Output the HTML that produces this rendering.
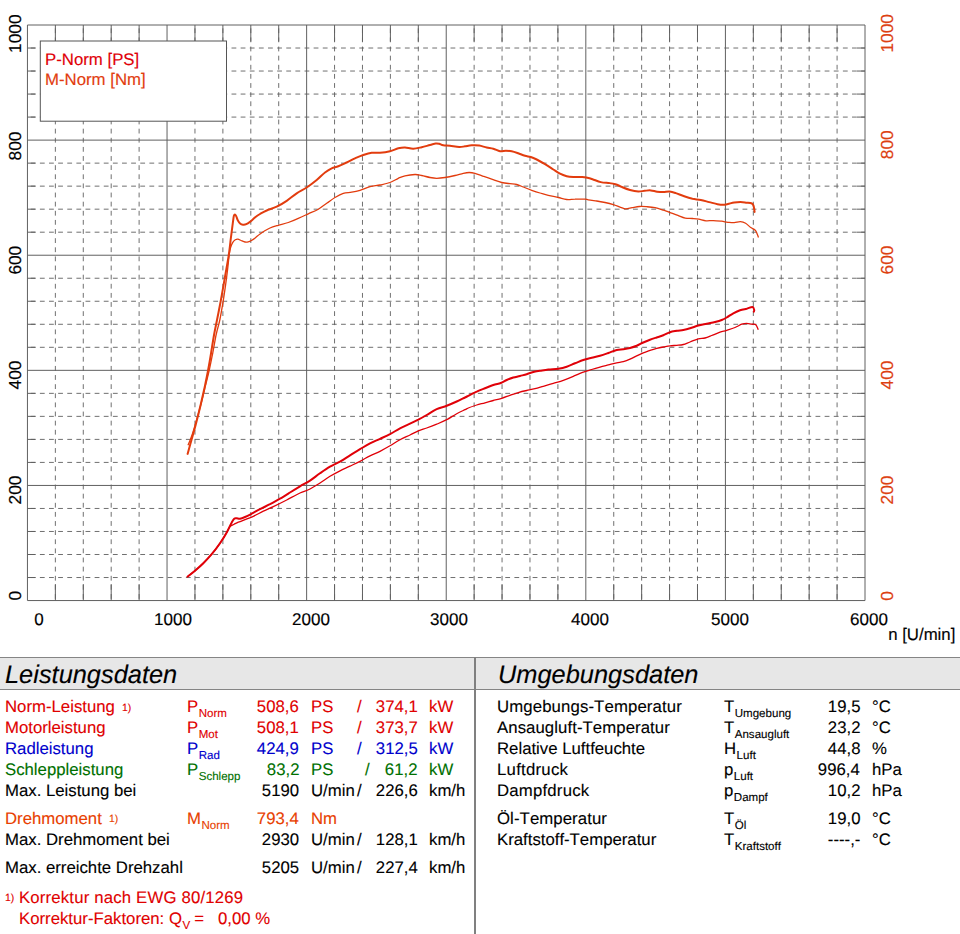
<!DOCTYPE html>
<html><head><meta charset="utf-8"><title>Leistungsdiagramm</title>
<style>
html,body{margin:0;padding:0;background:#fff;}
body{width:960px;height:934px;position:relative;overflow:hidden;font-family:"Liberation Sans",sans-serif;}
svg{position:absolute;left:0;top:0;}
svg text{font-family:"Liberation Sans",sans-serif;text-rendering:geometricPrecision;stroke-width:0.15px;paint-order:stroke;}
.ay,.ax{stroke:#000;}
.s{stroke:#606060;stroke-width:1;}
.d{stroke:#606060;stroke-width:0.9;stroke-dasharray:4.8 4.325;stroke-dashoffset:5.8;}
.ay{font-size:17.3px;}
.ax{font-size:17px;}
.lg{font-size:16.8px;}
.hdr{position:absolute;left:0;top:656.5px;width:960px;height:33px;background:#e7e7e7;border-top:1.6px solid #858585;border-bottom:1.6px solid #858585;box-sizing:border-box;}
.hd{text-rendering:geometricPrecision;position:absolute;top:659.7px;font-size:25.4px;font-style:italic;line-height:30px;color:#000;white-space:nowrap;-webkit-text-stroke:0.12px;}
.vd{position:absolute;left:474.1px;top:656.5px;width:1.8px;height:278px;background:#808080;}
.t{position:absolute;font-size:16.7px;line-height:20px;white-space:nowrap;text-rendering:geometricPrecision;transform:scaleX(1.004);transform-origin:0 0;font-kerning:none;-webkit-text-stroke:0.12px;}
.r{transform-origin:100% 0;}
.sub{font-size:11.5px;position:relative;top:5px;left:0.5px;line-height:0;}
.fn{font-size:10.4px;position:relative;top:-1.7px;line-height:0;}
</style></head><body>
<svg width="960" height="934" viewBox="0 0 960 934">
<line x1="27.45" y1="25.0" x2="27.45" y2="600.55" class="s"/>
<line x1="55.37" y1="25.0" x2="55.37" y2="600.55" class="d"/>
<line x1="55.37" y1="25.0" x2="55.37" y2="41.5" class="s"/>
<line x1="55.37" y1="584.05" x2="55.37" y2="600.55" class="s"/>
<line x1="83.29" y1="25.0" x2="83.29" y2="600.55" class="d"/>
<line x1="83.29" y1="25.0" x2="83.29" y2="41.5" class="s"/>
<line x1="83.29" y1="584.05" x2="83.29" y2="600.55" class="s"/>
<line x1="111.20" y1="25.0" x2="111.20" y2="600.55" class="d"/>
<line x1="111.20" y1="25.0" x2="111.20" y2="41.5" class="s"/>
<line x1="111.20" y1="584.05" x2="111.20" y2="600.55" class="s"/>
<line x1="139.12" y1="25.0" x2="139.12" y2="600.55" class="d"/>
<line x1="139.12" y1="25.0" x2="139.12" y2="41.5" class="s"/>
<line x1="139.12" y1="584.05" x2="139.12" y2="600.55" class="s"/>
<line x1="167.04" y1="25.0" x2="167.04" y2="600.55" class="s"/>
<line x1="194.96" y1="25.0" x2="194.96" y2="600.55" class="d"/>
<line x1="194.96" y1="25.0" x2="194.96" y2="41.5" class="s"/>
<line x1="194.96" y1="584.05" x2="194.96" y2="600.55" class="s"/>
<line x1="222.88" y1="25.0" x2="222.88" y2="600.55" class="d"/>
<line x1="222.88" y1="25.0" x2="222.88" y2="41.5" class="s"/>
<line x1="222.88" y1="584.05" x2="222.88" y2="600.55" class="s"/>
<line x1="250.80" y1="25.0" x2="250.80" y2="600.55" class="d"/>
<line x1="250.80" y1="25.0" x2="250.80" y2="41.5" class="s"/>
<line x1="250.80" y1="584.05" x2="250.80" y2="600.55" class="s"/>
<line x1="278.71" y1="25.0" x2="278.71" y2="600.55" class="d"/>
<line x1="278.71" y1="25.0" x2="278.71" y2="41.5" class="s"/>
<line x1="278.71" y1="584.05" x2="278.71" y2="600.55" class="s"/>
<line x1="306.63" y1="25.0" x2="306.63" y2="600.55" class="s"/>
<line x1="334.55" y1="25.0" x2="334.55" y2="600.55" class="d"/>
<line x1="334.55" y1="25.0" x2="334.55" y2="41.5" class="s"/>
<line x1="334.55" y1="584.05" x2="334.55" y2="600.55" class="s"/>
<line x1="362.47" y1="25.0" x2="362.47" y2="600.55" class="d"/>
<line x1="362.47" y1="25.0" x2="362.47" y2="41.5" class="s"/>
<line x1="362.47" y1="584.05" x2="362.47" y2="600.55" class="s"/>
<line x1="390.39" y1="25.0" x2="390.39" y2="600.55" class="d"/>
<line x1="390.39" y1="25.0" x2="390.39" y2="41.5" class="s"/>
<line x1="390.39" y1="584.05" x2="390.39" y2="600.55" class="s"/>
<line x1="418.31" y1="25.0" x2="418.31" y2="600.55" class="d"/>
<line x1="418.31" y1="25.0" x2="418.31" y2="41.5" class="s"/>
<line x1="418.31" y1="584.05" x2="418.31" y2="600.55" class="s"/>
<line x1="446.22" y1="25.0" x2="446.22" y2="600.55" class="s"/>
<line x1="474.14" y1="25.0" x2="474.14" y2="600.55" class="d"/>
<line x1="474.14" y1="25.0" x2="474.14" y2="41.5" class="s"/>
<line x1="474.14" y1="584.05" x2="474.14" y2="600.55" class="s"/>
<line x1="502.06" y1="25.0" x2="502.06" y2="600.55" class="d"/>
<line x1="502.06" y1="25.0" x2="502.06" y2="41.5" class="s"/>
<line x1="502.06" y1="584.05" x2="502.06" y2="600.55" class="s"/>
<line x1="529.98" y1="25.0" x2="529.98" y2="600.55" class="d"/>
<line x1="529.98" y1="25.0" x2="529.98" y2="41.5" class="s"/>
<line x1="529.98" y1="584.05" x2="529.98" y2="600.55" class="s"/>
<line x1="557.90" y1="25.0" x2="557.90" y2="600.55" class="d"/>
<line x1="557.90" y1="25.0" x2="557.90" y2="41.5" class="s"/>
<line x1="557.90" y1="584.05" x2="557.90" y2="600.55" class="s"/>
<line x1="585.82" y1="25.0" x2="585.82" y2="600.55" class="s"/>
<line x1="613.74" y1="25.0" x2="613.74" y2="600.55" class="d"/>
<line x1="613.74" y1="25.0" x2="613.74" y2="41.5" class="s"/>
<line x1="613.74" y1="584.05" x2="613.74" y2="600.55" class="s"/>
<line x1="641.65" y1="25.0" x2="641.65" y2="600.55" class="d"/>
<line x1="641.65" y1="25.0" x2="641.65" y2="41.5" class="s"/>
<line x1="641.65" y1="584.05" x2="641.65" y2="600.55" class="s"/>
<line x1="669.57" y1="25.0" x2="669.57" y2="600.55" class="d"/>
<line x1="669.57" y1="25.0" x2="669.57" y2="41.5" class="s"/>
<line x1="669.57" y1="584.05" x2="669.57" y2="600.55" class="s"/>
<line x1="697.49" y1="25.0" x2="697.49" y2="600.55" class="d"/>
<line x1="697.49" y1="25.0" x2="697.49" y2="41.5" class="s"/>
<line x1="697.49" y1="584.05" x2="697.49" y2="600.55" class="s"/>
<line x1="725.41" y1="25.0" x2="725.41" y2="600.55" class="s"/>
<line x1="753.33" y1="25.0" x2="753.33" y2="600.55" class="d"/>
<line x1="753.33" y1="25.0" x2="753.33" y2="41.5" class="s"/>
<line x1="753.33" y1="584.05" x2="753.33" y2="600.55" class="s"/>
<line x1="781.25" y1="25.0" x2="781.25" y2="600.55" class="d"/>
<line x1="781.25" y1="25.0" x2="781.25" y2="41.5" class="s"/>
<line x1="781.25" y1="584.05" x2="781.25" y2="600.55" class="s"/>
<line x1="809.16" y1="25.0" x2="809.16" y2="600.55" class="d"/>
<line x1="809.16" y1="25.0" x2="809.16" y2="41.5" class="s"/>
<line x1="809.16" y1="584.05" x2="809.16" y2="600.55" class="s"/>
<line x1="837.08" y1="25.0" x2="837.08" y2="600.55" class="d"/>
<line x1="837.08" y1="25.0" x2="837.08" y2="41.5" class="s"/>
<line x1="837.08" y1="584.05" x2="837.08" y2="600.55" class="s"/>
<line x1="865.00" y1="25.0" x2="865.00" y2="600.55" class="s"/>
<line x1="27.45" y1="600.55" x2="865.0" y2="600.55" class="s"/>
<line x1="27.45" y1="577.53" x2="865.0" y2="577.53" class="d"/>
<line x1="27.45" y1="577.53" x2="35.45" y2="577.53" class="s"/>
<line x1="857.0" y1="577.53" x2="865.0" y2="577.53" class="s"/>
<line x1="27.45" y1="554.51" x2="865.0" y2="554.51" class="d"/>
<line x1="27.45" y1="554.51" x2="35.45" y2="554.51" class="s"/>
<line x1="857.0" y1="554.51" x2="865.0" y2="554.51" class="s"/>
<line x1="27.45" y1="531.48" x2="865.0" y2="531.48" class="d"/>
<line x1="27.45" y1="531.48" x2="35.45" y2="531.48" class="s"/>
<line x1="857.0" y1="531.48" x2="865.0" y2="531.48" class="s"/>
<line x1="27.45" y1="508.46" x2="865.0" y2="508.46" class="d"/>
<line x1="27.45" y1="508.46" x2="35.45" y2="508.46" class="s"/>
<line x1="857.0" y1="508.46" x2="865.0" y2="508.46" class="s"/>
<line x1="27.45" y1="485.44" x2="865.0" y2="485.44" class="s"/>
<line x1="27.45" y1="462.42" x2="865.0" y2="462.42" class="d"/>
<line x1="27.45" y1="462.42" x2="35.45" y2="462.42" class="s"/>
<line x1="857.0" y1="462.42" x2="865.0" y2="462.42" class="s"/>
<line x1="27.45" y1="439.40" x2="865.0" y2="439.40" class="d"/>
<line x1="27.45" y1="439.40" x2="35.45" y2="439.40" class="s"/>
<line x1="857.0" y1="439.40" x2="865.0" y2="439.40" class="s"/>
<line x1="27.45" y1="416.37" x2="865.0" y2="416.37" class="d"/>
<line x1="27.45" y1="416.37" x2="35.45" y2="416.37" class="s"/>
<line x1="857.0" y1="416.37" x2="865.0" y2="416.37" class="s"/>
<line x1="27.45" y1="393.35" x2="865.0" y2="393.35" class="d"/>
<line x1="27.45" y1="393.35" x2="35.45" y2="393.35" class="s"/>
<line x1="857.0" y1="393.35" x2="865.0" y2="393.35" class="s"/>
<line x1="27.45" y1="370.33" x2="865.0" y2="370.33" class="s"/>
<line x1="27.45" y1="347.31" x2="865.0" y2="347.31" class="d"/>
<line x1="27.45" y1="347.31" x2="35.45" y2="347.31" class="s"/>
<line x1="857.0" y1="347.31" x2="865.0" y2="347.31" class="s"/>
<line x1="27.45" y1="324.29" x2="865.0" y2="324.29" class="d"/>
<line x1="27.45" y1="324.29" x2="35.45" y2="324.29" class="s"/>
<line x1="857.0" y1="324.29" x2="865.0" y2="324.29" class="s"/>
<line x1="27.45" y1="301.26" x2="865.0" y2="301.26" class="d"/>
<line x1="27.45" y1="301.26" x2="35.45" y2="301.26" class="s"/>
<line x1="857.0" y1="301.26" x2="865.0" y2="301.26" class="s"/>
<line x1="27.45" y1="278.24" x2="865.0" y2="278.24" class="d"/>
<line x1="27.45" y1="278.24" x2="35.45" y2="278.24" class="s"/>
<line x1="857.0" y1="278.24" x2="865.0" y2="278.24" class="s"/>
<line x1="27.45" y1="255.22" x2="865.0" y2="255.22" class="s"/>
<line x1="27.45" y1="232.20" x2="865.0" y2="232.20" class="d"/>
<line x1="27.45" y1="232.20" x2="35.45" y2="232.20" class="s"/>
<line x1="857.0" y1="232.20" x2="865.0" y2="232.20" class="s"/>
<line x1="27.45" y1="209.18" x2="865.0" y2="209.18" class="d"/>
<line x1="27.45" y1="209.18" x2="35.45" y2="209.18" class="s"/>
<line x1="857.0" y1="209.18" x2="865.0" y2="209.18" class="s"/>
<line x1="27.45" y1="186.15" x2="865.0" y2="186.15" class="d"/>
<line x1="27.45" y1="186.15" x2="35.45" y2="186.15" class="s"/>
<line x1="857.0" y1="186.15" x2="865.0" y2="186.15" class="s"/>
<line x1="27.45" y1="163.13" x2="865.0" y2="163.13" class="d"/>
<line x1="27.45" y1="163.13" x2="35.45" y2="163.13" class="s"/>
<line x1="857.0" y1="163.13" x2="865.0" y2="163.13" class="s"/>
<line x1="27.45" y1="140.11" x2="865.0" y2="140.11" class="s"/>
<line x1="27.45" y1="117.09" x2="865.0" y2="117.09" class="d"/>
<line x1="27.45" y1="117.09" x2="35.45" y2="117.09" class="s"/>
<line x1="857.0" y1="117.09" x2="865.0" y2="117.09" class="s"/>
<line x1="27.45" y1="94.07" x2="865.0" y2="94.07" class="d"/>
<line x1="27.45" y1="94.07" x2="35.45" y2="94.07" class="s"/>
<line x1="857.0" y1="94.07" x2="865.0" y2="94.07" class="s"/>
<line x1="27.45" y1="71.04" x2="865.0" y2="71.04" class="d"/>
<line x1="27.45" y1="71.04" x2="35.45" y2="71.04" class="s"/>
<line x1="857.0" y1="71.04" x2="865.0" y2="71.04" class="s"/>
<line x1="27.45" y1="48.02" x2="865.0" y2="48.02" class="d"/>
<line x1="27.45" y1="48.02" x2="35.45" y2="48.02" class="s"/>
<line x1="857.0" y1="48.02" x2="865.0" y2="48.02" class="s"/>
<line x1="27.45" y1="25.00" x2="865.0" y2="25.00" class="s"/>
<rect x="40.3" y="41" width="186.2" height="80.2" fill="#fff" stroke="#555" stroke-width="1"/>
<path d="M188.0 445.3C188.6 443.9 190.1 440.5 191.4 436.8C192.7 433.1 194.2 428.2 195.7 423.1C197.2 418.0 198.9 411.9 200.5 405.9C202.1 399.9 203.7 393.0 205.1 387.1C206.5 381.2 207.8 376.5 209.1 370.8C210.4 365.1 211.6 358.9 212.8 352.8C214.0 346.7 215.1 339.5 216.3 334.0C217.5 328.5 218.7 325.2 219.8 320.0C220.9 314.8 221.9 308.7 222.9 302.8C223.9 296.9 224.8 290.4 225.6 284.8C226.4 279.2 227.0 274.5 227.6 269.4C228.2 264.3 228.8 257.6 229.3 254.0C229.8 250.3 230.0 249.4 230.6 247.5C231.2 245.6 232.0 243.7 232.8 242.4C233.6 241.1 234.5 240.3 235.3 239.8C236.2 239.3 236.9 239.1 237.9 239.2C238.9 239.3 239.9 240.0 241.1 240.5C242.3 241.0 243.8 241.8 245.0 242.0C246.2 242.2 247.1 242.1 248.2 241.8C249.3 241.6 250.2 241.2 251.4 240.5C252.6 239.8 253.8 239.0 255.2 237.9C256.6 236.8 258.6 235.0 260.0 234.0C261.4 233.0 261.6 232.7 263.3 231.7C265.0 230.7 267.5 229.1 270.0 228.0C272.5 226.9 275.2 226.2 278.3 225.3C281.4 224.4 285.0 223.7 288.3 222.5C291.6 221.3 295.0 219.8 298.3 218.3C301.6 216.9 305.0 215.3 308.3 213.8C311.6 212.3 315.2 210.9 318.3 209.2C321.4 207.4 323.9 205.2 326.7 203.3C329.5 201.4 332.2 199.2 335.0 197.5C337.8 195.8 340.5 194.2 343.3 193.3C346.1 192.4 348.9 192.7 351.7 192.2C354.5 191.7 356.9 191.2 360.0 190.3C363.1 189.4 366.7 187.6 370.0 186.7C373.3 185.8 376.7 185.7 380.0 185.0C383.3 184.3 386.9 183.6 390.0 182.5C393.1 181.4 395.8 179.4 398.3 178.3C400.8 177.2 402.2 176.4 405.0 175.8C407.8 175.2 412.2 174.6 415.0 174.5C417.8 174.4 419.2 175.0 421.7 175.5C424.2 176.0 427.5 177.0 430.0 177.5C432.5 178.0 434.2 178.3 436.7 178.3C439.2 178.3 441.9 178.0 445.0 177.5C448.1 177.0 451.9 176.2 455.0 175.5C458.1 174.8 460.9 173.8 463.3 173.3C465.7 172.8 467.2 172.5 469.2 172.5C471.1 172.5 472.6 172.7 475.0 173.3C477.4 173.9 480.5 175.3 483.3 176.3C486.1 177.3 488.6 178.2 491.7 179.2C494.8 180.2 498.6 181.8 501.7 182.5C504.8 183.2 507.5 183.4 510.0 183.7C512.5 184.0 514.5 183.9 516.7 184.5C518.9 185.1 520.8 186.0 523.3 187.0C525.8 188.0 528.9 189.3 531.7 190.3C534.5 191.3 537.2 192.2 540.0 193.0C542.8 193.8 545.2 194.6 548.3 195.3C551.3 196.1 555.2 196.8 558.3 197.5C561.4 198.2 563.9 199.2 566.7 199.5C569.5 199.8 572.0 199.2 575.0 199.2C578.0 199.1 582.8 199.1 585.0 199.2C587.2 199.3 586.3 199.5 588.3 199.8C590.2 200.1 593.9 200.6 596.7 201.0C599.5 201.4 602.2 201.9 605.0 202.5C607.8 203.1 610.7 203.8 613.3 204.6C615.9 205.4 618.5 206.6 620.6 207.3C622.7 208.0 623.9 208.7 625.8 208.8C627.7 208.8 629.8 208.1 632.1 207.7C634.4 207.3 637.0 206.7 639.4 206.5C641.8 206.3 644.1 206.5 646.7 206.7C649.3 206.9 652.2 207.1 655.0 207.7C657.8 208.3 660.9 209.4 663.3 210.2C665.7 211.0 667.2 211.4 669.6 212.3C672.0 213.2 675.3 214.4 677.9 215.4C680.5 216.4 682.8 217.6 685.2 218.1C687.6 218.6 690.2 218.3 692.5 218.5C694.8 218.7 696.5 218.8 698.8 219.2C701.0 219.6 703.6 220.6 706.0 220.8C708.4 221.0 710.7 220.5 713.3 220.6C715.9 220.7 719.3 221.0 721.7 221.2C724.1 221.5 725.8 222.1 727.9 222.3C730.0 222.5 732.1 222.8 734.2 222.7C736.3 222.6 738.5 221.6 740.4 221.7C742.3 221.8 743.9 222.3 745.6 223.3C747.3 224.3 749.1 226.3 750.8 227.5C752.5 228.7 754.3 228.9 755.6 230.6C756.9 232.3 758.0 236.3 758.5 237.5" fill="none" stroke="#e23c0e" stroke-width="1.3" stroke-linejoin="round"/>
<path d="M187.6 453.9C188.2 451.6 190.1 445.0 191.4 440.2C192.8 435.4 194.3 430.2 195.7 424.8C197.1 419.4 198.6 413.6 200.0 407.6C201.4 401.6 203.0 394.9 204.3 388.8C205.6 382.7 206.9 376.8 208.0 370.8C209.1 364.8 210.1 358.9 211.1 352.8C212.1 346.7 213.2 339.5 214.2 334.0C215.2 328.5 216.0 325.2 217.0 320.0C218.0 314.8 219.3 308.7 220.4 302.8C221.5 296.9 222.6 290.4 223.6 284.8C224.6 279.2 225.4 274.5 226.3 269.4C227.2 264.3 228.2 259.1 228.9 254.0C229.7 248.8 230.2 243.7 230.8 238.5C231.5 233.3 232.3 226.8 232.8 223.1C233.3 219.4 233.5 217.5 233.8 216.1C234.2 214.7 234.5 214.4 234.9 214.4C235.3 214.4 235.7 215.1 236.2 216.1C236.7 217.1 237.2 219.4 237.9 220.6C238.6 221.8 239.2 222.8 240.1 223.5C240.9 224.2 242.0 224.6 243.0 224.7C244.0 224.8 245.0 224.8 246.3 224.2C247.6 223.6 249.3 222.3 250.8 221.2C252.3 220.0 253.7 218.5 255.2 217.3C256.7 216.1 258.1 215.1 260.0 214.0C261.9 212.9 263.9 211.7 266.7 210.5C269.5 209.3 273.4 208.3 276.7 206.7C280.0 205.1 283.4 203.0 286.7 200.8C290.0 198.6 293.4 195.5 296.7 193.3C300.0 191.1 303.4 189.7 306.7 187.5C310.0 185.3 313.6 182.5 316.7 180.0C319.8 177.5 322.5 174.4 325.0 172.5C327.5 170.6 329.5 169.3 331.7 168.3C333.9 167.3 335.8 167.3 338.3 166.3C340.8 165.3 343.9 163.8 346.7 162.5C349.5 161.2 352.2 159.6 355.0 158.3C357.8 157.1 360.5 155.9 363.3 155.0C366.1 154.1 368.9 153.2 371.7 152.8C374.5 152.4 376.9 153.1 380.0 152.8C383.1 152.6 386.9 152.1 390.0 151.3C393.1 150.6 395.8 148.9 398.3 148.3C400.8 147.7 402.5 147.4 405.0 147.5C407.5 147.6 410.5 148.8 413.3 148.7C416.1 148.6 418.9 147.8 421.7 147.2C424.5 146.6 427.6 145.6 430.0 145.0C432.4 144.4 434.3 143.7 435.8 143.5C437.3 143.3 437.9 143.5 439.2 143.8C440.4 144.1 441.5 145.0 443.3 145.3C445.1 145.6 447.4 145.5 450.0 145.8C452.6 146.1 456.7 146.9 459.2 147.0C461.7 147.1 462.9 146.6 465.0 146.3C467.1 146.0 469.3 145.4 471.7 145.3C474.1 145.2 476.7 145.1 479.2 145.5C481.7 145.9 484.3 147.0 486.7 147.5C489.1 148.0 491.1 148.1 493.3 148.7C495.5 149.3 497.9 150.8 500.0 151.2C502.1 151.5 503.9 150.8 505.8 150.8C507.8 150.8 509.6 150.8 511.7 151.2C513.8 151.6 516.1 152.5 518.3 153.3C520.5 154.1 522.9 155.2 525.0 155.8C527.1 156.4 528.8 156.4 530.8 157.0C532.8 157.6 534.3 158.3 536.7 159.5C539.1 160.7 542.2 162.5 545.0 164.2C547.8 165.9 550.8 167.9 553.3 169.5C555.8 171.1 557.8 172.6 560.0 173.7C562.2 174.8 564.5 175.6 566.7 176.2C568.9 176.8 570.8 176.9 573.3 177.0C575.8 177.1 579.5 176.9 581.7 177.0C583.9 177.1 584.5 177.1 586.2 177.5C588.0 177.9 590.1 178.4 592.5 179.2C594.9 180.0 598.0 181.4 600.8 182.1C603.6 182.8 606.8 182.8 609.2 183.1C611.6 183.4 613.3 183.6 615.4 184.2C617.5 184.8 619.3 185.9 621.7 186.9C624.1 187.9 627.2 189.2 630.0 190.0C632.8 190.8 635.9 191.4 638.3 191.5C640.7 191.6 642.5 191.0 644.6 190.8C646.7 190.6 648.7 190.2 650.8 190.4C652.9 190.6 655.0 191.4 657.1 191.7C659.2 192.0 661.2 192.1 663.3 192.1C665.4 192.1 667.5 191.3 669.6 191.5C671.7 191.7 673.4 192.3 675.8 193.1C678.2 193.9 681.4 195.3 684.2 196.2C687.0 197.2 689.7 198.1 692.5 198.8C695.3 199.4 698.0 199.4 700.8 200.0C703.6 200.6 706.4 201.4 709.2 202.1C712.0 202.8 715.2 203.8 717.5 204.2C719.8 204.6 721.0 204.8 722.7 204.8C724.4 204.8 726.0 204.4 727.9 204.0C729.8 203.6 732.1 202.8 734.2 202.5C736.3 202.2 738.3 202.1 740.4 202.1C742.5 202.1 744.8 202.5 746.7 202.7C748.6 202.9 750.8 203.0 751.9 203.5C753.0 204.0 753.0 204.2 753.5 205.6C754.0 207.0 754.4 210.8 754.6 211.9" fill="none" stroke="#e23c0e" stroke-width="2.0" stroke-linejoin="round" stroke-linecap="round"/>
<path d="M187.5 576.7C188.8 575.7 192.4 573.0 195.0 570.8C197.6 568.6 200.5 566.1 203.3 563.3C206.1 560.5 208.9 557.5 211.7 554.2C214.5 550.9 217.5 546.9 220.0 543.3C222.5 539.7 225.0 535.3 226.7 532.5C228.4 529.7 228.8 528.1 230.0 526.7C231.2 525.3 232.8 525.0 234.2 524.2C235.6 523.5 236.5 523.0 238.3 522.2C240.1 521.5 242.5 520.7 245.0 519.7C247.5 518.7 250.2 517.7 253.3 516.3C256.4 514.9 260.0 512.8 263.3 511.2C266.6 509.6 269.4 508.6 273.3 506.7C277.2 504.8 282.2 502.3 286.7 500.0C291.1 497.7 296.1 494.8 300.0 493.0C303.9 491.2 306.7 490.7 310.0 489.0C313.3 487.3 316.7 485.1 320.0 483.0C323.3 480.9 326.7 478.3 330.0 476.3C333.3 474.3 336.7 472.5 340.0 470.8C343.3 469.1 346.7 467.8 350.0 466.2C353.3 464.6 356.7 463.0 360.0 461.3C363.3 459.6 366.7 457.5 370.0 455.8C373.3 454.1 376.7 453.0 380.0 451.3C383.3 449.6 386.7 447.7 390.0 445.8C393.3 443.9 396.7 441.5 400.0 439.7C403.3 437.9 406.9 436.5 410.0 435.0C413.1 433.5 415.5 432.0 418.3 430.8C421.1 429.6 423.6 429.1 426.7 428.0C429.8 426.9 433.4 425.6 436.7 424.2C440.0 422.8 443.4 421.4 446.7 419.7C450.0 417.9 453.6 415.4 456.7 413.7C459.8 412.0 463.1 410.6 465.0 409.7C466.9 408.8 466.4 408.8 468.3 408.0C470.2 407.2 473.9 405.9 476.7 405.0C479.5 404.1 482.2 403.6 485.0 402.8C487.8 402.1 490.5 401.2 493.3 400.5C496.1 399.8 498.9 399.2 501.7 398.3C504.5 397.4 507.2 396.3 510.0 395.3C512.8 394.3 515.5 393.3 518.3 392.5C521.1 391.7 523.9 391.1 526.7 390.5C529.5 389.9 532.2 389.4 535.0 388.7C537.8 388.0 540.2 387.2 543.3 386.3C546.3 385.4 550.0 384.3 553.3 383.3C556.6 382.3 560.0 381.5 563.3 380.3C566.6 379.1 570.0 377.7 573.3 376.3C576.6 374.9 580.2 373.3 583.3 372.2C586.4 371.1 588.9 370.4 591.7 369.5C594.5 368.6 597.2 367.8 600.0 367.0C602.8 366.2 605.5 365.6 608.3 364.9C611.1 364.2 614.2 363.3 616.7 362.8C619.2 362.3 621.1 362.3 623.3 361.7C625.5 361.1 627.8 360.2 630.0 359.2C632.2 358.2 634.5 356.9 636.7 355.8C638.9 354.7 641.1 353.7 643.3 352.8C645.5 351.9 647.8 351.1 650.0 350.3C652.2 349.6 654.5 348.9 656.7 348.3C658.9 347.8 661.1 347.4 663.3 347.0C665.5 346.6 667.8 346.1 670.0 345.8C672.2 345.5 674.5 345.5 676.7 345.3C678.9 345.1 681.1 345.1 683.3 344.5C685.5 343.9 687.5 342.9 690.0 342.0C692.5 341.1 695.8 339.5 698.3 338.8C700.8 338.1 702.8 338.6 705.0 338.0C707.2 337.4 709.2 336.5 711.7 335.5C714.2 334.5 717.5 333.1 720.0 332.2C722.5 331.3 724.2 331.1 726.7 330.3C729.2 329.5 732.5 328.5 735.0 327.5C737.5 326.5 739.8 324.9 741.7 324.2C743.7 323.5 745.0 323.3 746.7 323.3C748.4 323.3 750.2 324.0 751.7 324.2C753.2 324.4 754.7 323.8 755.8 324.7C756.9 325.6 757.9 328.9 758.3 329.7" fill="none" stroke="#e00008" stroke-width="1.3" stroke-linejoin="round"/>
<path d="M187.5 576.7C188.8 575.7 192.4 573.0 195.0 570.8C197.6 568.6 200.5 566.1 203.3 563.3C206.1 560.5 208.9 557.5 211.7 554.2C214.5 550.9 217.5 546.9 220.0 543.3C222.5 539.7 224.8 536.0 226.7 532.5C228.6 529.0 230.4 524.8 231.7 522.5C232.9 520.2 233.4 519.4 234.2 518.7C235.0 518.0 235.7 518.3 236.7 518.3C237.7 518.3 238.6 518.9 240.0 518.7C241.4 518.5 243.1 517.8 245.0 517.0C246.9 516.2 249.2 515.0 251.7 513.7C254.2 512.4 256.9 510.8 260.0 509.2C263.1 507.6 266.7 505.9 270.0 504.2C273.3 502.4 276.7 500.6 280.0 498.7C283.3 496.8 286.7 494.6 290.0 492.5C293.3 490.4 296.7 488.3 300.0 486.3C303.3 484.3 306.7 482.8 310.0 480.6C313.3 478.4 316.7 475.6 320.0 473.3C323.3 471.0 326.7 468.6 330.0 466.7C333.3 464.8 336.7 463.6 340.0 461.7C343.3 459.8 346.7 457.4 350.0 455.3C353.3 453.2 356.7 451.2 360.0 449.2C363.3 447.2 366.7 445.0 370.0 443.3C373.3 441.6 376.7 440.3 380.0 438.8C383.3 437.3 386.7 435.9 390.0 434.2C393.3 432.4 396.7 430.1 400.0 428.3C403.3 426.6 406.9 425.1 410.0 423.7C413.1 422.3 415.5 421.1 418.3 419.7C421.1 418.2 423.6 416.8 426.7 415.0C429.8 413.2 433.4 410.7 436.7 409.2C440.0 407.7 443.4 407.1 446.7 405.8C450.0 404.5 453.6 402.9 456.7 401.5C459.8 400.1 463.1 398.4 465.0 397.5C466.9 396.6 466.4 396.8 468.3 395.8C470.2 394.8 473.9 392.9 476.7 391.7C479.5 390.4 482.2 389.4 485.0 388.3C487.8 387.2 490.7 385.9 493.3 385.0C495.9 384.1 498.6 383.8 500.8 383.0C503.0 382.2 504.6 380.9 506.7 380.0C508.8 379.1 511.1 378.2 513.3 377.5C515.5 376.8 517.8 376.6 520.0 376.0C522.2 375.4 524.5 374.9 526.7 374.2C528.9 373.5 531.1 372.6 533.3 372.0C535.5 371.4 537.5 371.2 540.0 370.8C542.5 370.4 545.2 369.9 548.3 369.5C551.3 369.1 555.2 369.2 558.3 368.7C561.4 368.2 563.9 367.6 566.7 366.7C569.5 365.8 572.2 364.4 575.0 363.3C577.8 362.2 580.5 360.9 583.3 360.0C586.1 359.1 588.9 358.5 591.7 357.8C594.5 357.1 597.2 356.6 600.0 355.8C602.8 355.0 605.5 354.0 608.3 353.0C611.1 352.0 614.2 350.6 616.7 350.0C619.2 349.4 621.1 349.5 623.3 349.2C625.5 348.9 627.8 348.6 630.0 348.0C632.2 347.4 634.5 346.7 636.7 345.8C638.9 344.9 641.1 343.5 643.3 342.5C645.5 341.5 647.8 340.5 650.0 339.7C652.2 338.9 654.5 338.2 656.7 337.5C658.9 336.8 661.1 336.2 663.3 335.3C665.5 334.4 667.8 332.9 670.0 332.2C672.2 331.4 674.5 331.2 676.7 330.8C678.9 330.4 681.1 330.4 683.3 330.0C685.5 329.6 687.5 329.1 690.0 328.3C692.5 327.6 695.5 326.3 698.3 325.5C701.1 324.7 703.9 324.3 706.7 323.7C709.5 323.1 712.5 322.6 715.0 322.0C717.5 321.4 719.8 320.8 721.7 320.0C723.7 319.2 724.8 318.6 726.7 317.5C728.6 316.4 731.1 314.5 733.3 313.3C735.5 312.1 737.8 311.1 740.0 310.3C742.2 309.5 744.6 309.2 746.7 308.7C748.8 308.1 751.2 306.8 752.5 307.0C753.8 307.2 754.0 309.2 754.2 310.0C754.4 310.8 753.9 311.4 753.8 311.7" fill="none" stroke="#e00008" stroke-width="2.0" stroke-linejoin="round" stroke-linecap="round"/>
<text transform="translate(21.3,33.7) rotate(-90)" text-anchor="middle" class="ay">1000</text>
<text transform="translate(892.6,33.3) rotate(-90)" text-anchor="middle" class="ay" fill="#dd4010" style="stroke:#dd4010">1000</text>
<text transform="translate(21.3,146) rotate(-90)" text-anchor="middle" class="ay">800</text>
<text transform="translate(892.6,144.8) rotate(-90)" text-anchor="middle" class="ay" fill="#dd4010" style="stroke:#dd4010">800</text>
<text transform="translate(21.3,260.2) rotate(-90)" text-anchor="middle" class="ay">600</text>
<text transform="translate(892.6,260) rotate(-90)" text-anchor="middle" class="ay" fill="#dd4010" style="stroke:#dd4010">600</text>
<text transform="translate(21.3,375) rotate(-90)" text-anchor="middle" class="ay">400</text>
<text transform="translate(892.6,375) rotate(-90)" text-anchor="middle" class="ay" fill="#dd4010" style="stroke:#dd4010">400</text>
<text transform="translate(21.3,490) rotate(-90)" text-anchor="middle" class="ay">200</text>
<text transform="translate(892.6,490) rotate(-90)" text-anchor="middle" class="ay" fill="#dd4010" style="stroke:#dd4010">200</text>
<text transform="translate(21.3,595.8) rotate(-90)" text-anchor="middle" class="ay">0</text>
<text transform="translate(892.6,596) rotate(-90)" text-anchor="middle" class="ay" fill="#dd4010" style="stroke:#dd4010">0</text>
<text x="39" y="624.7" text-anchor="middle" class="ax">0</text>
<text x="173" y="624.7" text-anchor="middle" class="ax">1000</text>
<text x="311" y="624.7" text-anchor="middle" class="ax">2000</text>
<text x="449" y="624.7" text-anchor="middle" class="ax">3000</text>
<text x="590" y="624.7" text-anchor="middle" class="ax">4000</text>
<text x="730" y="624.7" text-anchor="middle" class="ax">5000</text>
<text x="869" y="624.7" text-anchor="middle" class="ax">6000</text>
<text x="888.2" y="640.1" class="ax" style="font-size:16.8px">n [U/min]</text>
<text x="45" y="64.5" class="lg" fill="#e00008" stroke="#e00008">P-Norm [PS]</text>
<text x="45" y="85" class="lg" fill="#e23c0e" stroke="#e23c0e">M-Norm [Nm]</text>
</svg>
<div class="hdr"></div>
<div class="vd"></div>
<div class="hd" style="left:5px">Leistungsdaten</div>
<div class="hd" style="left:498px">Umgebungsdaten</div>
<div class="t" style="left:5.3px;top:697.4px;color:#e00000">Norm-Leistung <span class="fn" style="margin-left:2.5px">1)</span></div>
<div class="t" style="left:186.7px;top:697.4px;color:#e00000">P<span class="sub">Norm</span></div>
<div class="t r" style="right:661.0px;top:697.4px;color:#e00000">508,6</div>
<div class="t" style="left:311.0px;top:697.4px;color:#e00000">PS</div>
<div class="t" style="left:357.0px;top:697.4px;color:#e00000">/</div>
<div class="t r" style="right:542.5px;top:697.4px;color:#e00000">374,1</div>
<div class="t" style="left:429.0px;top:697.4px;color:#e00000">kW</div>
<div class="t" style="left:5.3px;top:718.0px;color:#e00000">Motorleistung</div>
<div class="t" style="left:186.7px;top:718.0px;color:#e00000">P<span class="sub">Mot</span></div>
<div class="t r" style="right:661.0px;top:718.0px;color:#e00000">508,1</div>
<div class="t" style="left:311.0px;top:718.0px;color:#e00000">PS</div>
<div class="t" style="left:357.0px;top:718.0px;color:#e00000">/</div>
<div class="t r" style="right:542.5px;top:718.0px;color:#e00000">373,7</div>
<div class="t" style="left:429.0px;top:718.0px;color:#e00000">kW</div>
<div class="t" style="left:5.3px;top:739.4px;color:#0000cc">Radleistung</div>
<div class="t" style="left:186.7px;top:739.4px;color:#0000cc">P<span class="sub">Rad</span></div>
<div class="t r" style="right:661.0px;top:739.4px;color:#0000cc">424,9</div>
<div class="t" style="left:311.0px;top:739.4px;color:#0000cc">PS</div>
<div class="t" style="left:357.0px;top:739.4px;color:#0000cc">/</div>
<div class="t r" style="right:542.5px;top:739.4px;color:#0000cc">312,5</div>
<div class="t" style="left:429.0px;top:739.4px;color:#0000cc">kW</div>
<div class="t" style="left:5.3px;top:760.4px;color:#007000">Schleppleistung</div>
<div class="t" style="left:186.7px;top:760.4px;color:#007000">P<span class="sub">Schlepp</span></div>
<div class="t r" style="right:661.0px;top:760.4px;color:#007000">83,2</div>
<div class="t" style="left:311.0px;top:760.4px;color:#007000">PS</div>
<div class="t" style="left:364.5px;top:760.4px;color:#007000">/</div>
<div class="t r" style="right:542.5px;top:760.4px;color:#007000">61,2</div>
<div class="t" style="left:429.0px;top:760.4px;color:#007000">kW</div>
<div class="t" style="left:5.3px;top:781.4px;color:#000">Max. Leistung bei</div>
<div class="t r" style="right:661.0px;top:781.4px;color:#000">5190</div>
<div class="t" style="left:311.0px;top:781.4px;color:#000">U/min</div>
<div class="t" style="left:357.0px;top:781.4px;color:#000">/</div>
<div class="t r" style="right:542.5px;top:781.4px;color:#000">226,6</div>
<div class="t" style="left:429.0px;top:781.4px;color:#000">km/h</div>
<div class="t" style="left:5.3px;top:809.0px;color:#e84000">Drehmoment <span class="fn" style="margin-left:2.5px">1)</span></div>
<div class="t" style="left:186.7px;top:809.0px;color:#e84000">M<span class="sub">Norm</span></div>
<div class="t r" style="right:661.0px;top:809.0px;color:#e84000">793,4</div>
<div class="t" style="left:311.0px;top:809.0px;color:#e84000">Nm</div>
<div class="t" style="left:5.3px;top:830.0px;color:#000">Max. Drehmoment bei</div>
<div class="t r" style="right:661.0px;top:830.0px;color:#000">2930</div>
<div class="t" style="left:311.0px;top:830.0px;color:#000">U/min</div>
<div class="t" style="left:357.0px;top:830.0px;color:#000">/</div>
<div class="t r" style="right:542.5px;top:830.0px;color:#000">128,1</div>
<div class="t" style="left:429.0px;top:830.0px;color:#000">km/h</div>
<div class="t" style="left:5.3px;top:858.4px;color:#000">Max. erreichte Drehzahl</div>
<div class="t r" style="right:661.0px;top:858.4px;color:#000">5205</div>
<div class="t" style="left:311.0px;top:858.4px;color:#000">U/min</div>
<div class="t" style="left:357.0px;top:858.4px;color:#000">/</div>
<div class="t r" style="right:542.5px;top:858.4px;color:#000">227,4</div>
<div class="t" style="left:429.0px;top:858.4px;color:#000">km/h</div>
<div class="t" style="left:5.0px;top:887.5px;color:#e00000"><span class="fn">1)</span> <span style="letter-spacing:0.17px">Korrektur nach EWG 80/1269</span></div>
<div class="t" style="left:19.0px;top:908.5px;color:#e00000">Korrektur-Faktoren: Q<span class="sub">V</span> =&nbsp;&nbsp; 0,00 %</div>
<div class="t" style="left:496.5px;top:697.4px;color:#000"><span style="letter-spacing:0.12px">Umgebungs-Temperatur</span></div>
<div class="t" style="left:724.0px;top:697.4px;color:#000">T<span class="sub">Umgebung</span></div>
<div class="t r" style="right:100.0px;top:697.4px;color:#000">19,5</div>
<div class="t" style="left:871.5px;top:697.4px;color:#000">°C</div>
<div class="t" style="left:496.5px;top:718.0px;color:#000"><span style="letter-spacing:0.07px">Ansaugluft-Temperatur</span></div>
<div class="t" style="left:724.0px;top:718.0px;color:#000">T<span class="sub">Ansaugluft</span></div>
<div class="t r" style="right:100.0px;top:718.0px;color:#000">23,2</div>
<div class="t" style="left:871.5px;top:718.0px;color:#000">°C</div>
<div class="t" style="left:496.5px;top:739.4px;color:#000">Relative Luftfeuchte</div>
<div class="t" style="left:724.0px;top:739.4px;color:#000">H<span class="sub">Luft</span></div>
<div class="t r" style="right:100.0px;top:739.4px;color:#000">44,8</div>
<div class="t" style="left:871.5px;top:739.4px;color:#000">%</div>
<div class="t" style="left:496.5px;top:760.4px;color:#000"><span style="letter-spacing:0.25px">Luftdruck</span></div>
<div class="t" style="left:724.0px;top:760.4px;color:#000">p<span class="sub">Luft</span></div>
<div class="t r" style="right:100.0px;top:760.4px;color:#000">996,4</div>
<div class="t" style="left:871.5px;top:760.4px;color:#000">hPa</div>
<div class="t" style="left:496.5px;top:781.4px;color:#000"><span style="letter-spacing:0.2px">Dampfdruck</span></div>
<div class="t" style="left:724.0px;top:781.4px;color:#000">p<span class="sub">Dampf</span></div>
<div class="t r" style="right:100.0px;top:781.4px;color:#000">10,2</div>
<div class="t" style="left:871.5px;top:781.4px;color:#000">hPa</div>
<div class="t" style="left:496.5px;top:809.0px;color:#000"><span style="letter-spacing:0.08px">Öl-Temperatur</span></div>
<div class="t" style="left:724.0px;top:809.0px;color:#000">T<span class="sub">Öl</span></div>
<div class="t r" style="right:100.0px;top:809.0px;color:#000">19,0</div>
<div class="t" style="left:871.5px;top:809.0px;color:#000">°C</div>
<div class="t" style="left:496.5px;top:830.0px;color:#000">Kraftstoff-Temperatur</div>
<div class="t" style="left:724.0px;top:830.0px;color:#000">T<span class="sub">Kraftstoff</span></div>
<div class="t r" style="right:100.0px;top:830.0px;color:#000">----,-</div>
<div class="t" style="left:871.5px;top:830.0px;color:#000">°C</div>
</body></html>
